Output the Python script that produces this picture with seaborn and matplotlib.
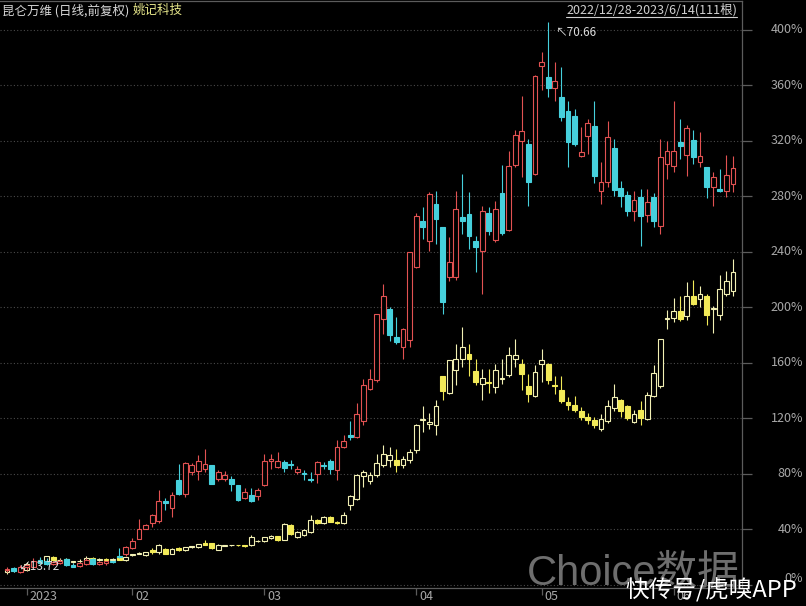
import matplotlib
matplotlib.use("Agg")
import numpy as np
import pandas as pd
import matplotlib.pyplot as plt
import matplotlib.transforms as mtransforms
from matplotlib.lines import Line2D
import seaborn as sns


# ─── DATA (% change, daily candles 2022/12/28 - 2023/6/14, 111 bars) ──────
# 昆仑万维 (main series)
kl_open = [10.5, 12, 9.5, 13, 13, 18, 17, 15, 16, 18.5, 14.5, 13.5, 15, 18.5, 15, 15.5, 17, 21, 22, 26.8,
           33.3, 40.5, 44.9, 45.8, 60.2, 55.0, 75.3, 65.8, 81.3, 82, 83.8, 86.1, 76.6, 76, 76.6, 71.7, 62.9, 64.5, 63.8, 71.7,
           89.2, 84.9, 88.5, 87.4, 81.3, 80.5, 76.5, 79.6, 86.5, 89.2, 82.5, 99.3, 108.2, 106.5, 118, 141.3, 147.8, 191.7, 198.9, 178.5,
           171.3, 176.1, 229.4, 262.5, 248.1, 274.5, 257.7, 221.7, 221.7, 265.4, 267.3, 248.1, 240.4, 267.8, 248.6, 282.2, 255.8, 302.8, 319.6, 317.7,
           296.1, 374.1, 365.7, 358, 351.8, 341.7, 338.1, 309.3, 323.7, 330.9, 283.6, 290.1, 314.6, 286.0, 281.2, 269.7, 279.3, 266.8, 279.3, 258.9,
           303.3, 301.6, 318.9, 310.0, 320.6, 304.5, 300.9, 287, 285.3, 283.6, 288.9]
kl_high = [12.5, 13, 14, 15, 19, 20, 19, 17, 18.5, 19, 15.5, 16.5, 19, 19, 17, 17.5, 17.5, 26.6, 28, 33.5,
           47.7, 43.5, 51, 68.1, 62.9, 66.9, 87.4, 88.5, 88, 93.3, 98.1, 86.5, 83, 82, 78.2, 72, 70, 70.1, 70.1, 94,
           94.5, 95.5, 90.2, 90.2, 85.4, 82.5, 81.3, 89.5, 88.5, 90.9, 104.6, 108.2, 118, 131, 148.5, 155.7, 195.5, 216.9, 200, 192.9,
           185, 240, 268, 272.1, 282.9, 283.6, 258, 250.5, 284.1, 296.1, 282.9, 251.7, 273.3, 272, 276.9, 302.8, 312.4, 328.1, 352.5, 321.3,
           367.5, 383.7, 405.3, 376.5, 372.9, 348.9, 342.6, 330.2, 335.7, 348.9, 304.5, 334.5, 321.3, 291.3, 284.1, 283.6, 285.3, 285.3, 282.2, 321.3,
           320.1, 348.9, 335.7, 331.6, 327.8, 326.1, 301, 297.3, 299.7, 310, 309.3]
kl_low = [9.5, 9, 8.5, 11, 12.5, 15, 14, 14, 15, 13.5, 12.5, 12.5, 14, 14.5, 14.5, 14.5, 16, 19.5, 21, 26,
          32.8, 40, 41.3, 44.2, 53.7, 48.9, 64.5, 63.3, 79, 75.3, 81.3, 72.5, 75, 75, 67.6, 60.5, 62, 59.7, 60.9, 71,
          83.8, 84.4, 81.3, 83.8, 80.1, 75.3, 74, 73.4, 83.8, 79.6, 75.3, 98.8, 104.1, 106.1, 114.9, 140.1, 146.1, 180.9, 176, 173.7,
          162.9, 171.3, 228, 249.3, 240.9, 245.7, 195.3, 219.3, 220, 252.9, 242.1, 225.3, 209.7, 252, 247, 252, 255, 300.8, 294.2, 273.3,
          295, 356.6, 351.3, 348.9, 334.5, 300.9, 316, 308, 310.5, 289.3, 274.5, 286.5, 280.5, 272.6, 266.1, 262.5, 244.5, 261.3, 258.2, 252.9,
          292.5, 297.3, 306.9, 294.9, 303.3, 300.9, 278.8, 273.3, 282.9, 279.8, 282.9]
kl_close = [11.5, 10, 13, 14, 17, 16, 15, 16.5, 17.5, 14, 13, 16, 18, 15, 16.5, 17, 16.5, 20, 27.3, 31.6,
            40.5, 42.9, 50.1, 60.2, 59.0, 64.5, 65.2, 87.8, 86.1, 89.2, 87.4, 72.9, 81.3, 79, 72.9, 61.4, 66.9, 60.4, 68.1, 89.2,
            90.9, 89.2, 84.4, 86.1, 83.8, 79.6, 75.8, 88.5, 85.5, 83.8, 99.3, 103.4, 106.5, 123.3, 143.9, 148.5, 195.3, 208.5, 179.7, 174.9,
            184.5, 239.7, 266.1, 257.7, 281.7, 263.7, 203.7, 232.5, 270.9, 262.0, 251.7, 243.3, 269.2, 255.3, 270.9, 253.4, 302.1, 324.4, 327.3, 290.1,
            366.9, 376.5, 358.0, 363.3, 337.4, 318.9, 317.7, 311.7, 332.5, 294.9, 290.1, 322.5, 284.6, 280.5, 269.2, 277.4, 266.1, 276.2, 262.5, 308.6,
            312.9, 312.9, 316.5, 329.2, 308.6, 309.3, 286.5, 293.7, 284.1, 295.6, 300.4]

# 姚记科技 (overlay series)
yj_open = [9, 10.5, 11, 10.5, 15, 16, 17.2, 20.1, 17.7, 18.5, 16.5, 17, 16.5, 19, 18, 18.5, 18, 19.7, 17.7, 21.3,
           22.5, 21.3, 25.4, 23.7, 26.1, 22.5, 26.6, 24.9, 27.2, 26.9, 29.8, 29.8, 25.4, 28.3, 28.4, 28.6, 28.2, 28.5, 31.3, 31.6,
           33.4, 35.0, 32.6, 42.9, 34.5, 35.7, 38.1, 46.5, 44.6, 48.9, 45.3, 44.6, 57.3, 62.1, 78.2, 74.8, 78.9, 86.1, 90.2, 89.7,
           86, 90, 97, 118.5, 116, 114.9, 150.2, 138.2, 154.5, 162.9, 166.0, 154.0, 144.4, 146.5, 142.5, 148.3, 150.9, 162.9, 159.3, 143.5,
           135.8, 158.8, 158.8, 143.9, 140.1, 131.7, 129.3, 125, 121, 119, 112.5, 118.0, 127.6, 132.9, 128.8, 117.3, 126.2, 119.2, 135.8, 143.0,
           191.5, 192.1, 197.0, 193.4, 208.5, 206.1, 208.5, 199.0, 194.1, 209.7, 211.5]
yj_high = [11, 12, 12.5, 16.5, 17, 18.5, 21, 20.5, 19.5, 19, 17.5, 18.5, 20.5, 20, 19.5, 19, 19, 20.5, 20, 22.5,
           23.5, 24, 26.5, 29.5, 26.5, 26.5, 27.5, 27.5, 27.8, 29.6, 32.6, 30, 29.4, 29, 29, 29, 28.6, 35.7, 32.5, 34.5,
           36, 35.5, 44.5, 43.5, 38.5, 40.5, 50.6, 47.5, 49.5, 49.5, 46, 52.5, 64.5, 79.5, 82.5, 81, 94, 100.5, 99.3, 98.1,
           93, 98, 116, 128.6, 123.5, 133.4, 150.5, 162, 173.7, 185.7, 173.7, 162.9, 155.7, 155.7, 159.3, 162.9, 171.3, 177.3, 162.9, 152.1,
           158.1, 170.1, 159.5, 150.2, 150.2, 135, 135.8, 128, 124, 121, 123.3, 133.4, 144.4, 134, 129.5, 126.2, 132.4, 138.9, 158.1, 177.5,
           197.7, 206.8, 207.8, 218.1, 219.8, 215.0, 209.7, 200.6, 223.6, 226.5, 234.9]
yj_low = [8, 9.5, 9, 10, 13.5, 15, 16.5, 17.5, 16.5, 16, 15.5, 16, 16, 17, 17, 17.5, 17, 18, 17, 21,
          22, 21, 22, 22.5, 22.3, 22, 24.5, 24.5, 26.8, 26.5, 28.7, 25.5, 25, 28, 28, 28, 27.6, 28, 31, 31,
          33, 31.5, 32, 36, 33.5, 35, 37.5, 43.5, 44, 45, 43.5, 44, 54.2, 61, 70.5, 73, 78, 84.9, 84.9, 81.3,
          84, 88, 95, 110.1, 112, 107.7, 132.9, 137.5, 143.7, 156.9, 150.2, 143.7, 132.9, 138.2, 138.2, 144.9, 149.7, 156.9, 140.6, 131.7,
          135.3, 146.1, 144.9, 137.7, 131.0, 126, 124.5, 119, 116, 113, 110.8, 116.6, 125, 120.9, 118.5, 116.8, 114.9, 118.5, 135.3, 142,
          184.5, 189.3, 190.0, 190.5, 201.3, 200.1, 186.9, 181.4, 191.0, 208, 208]
yj_close = [10.5, 11, 10, 15.3, 16, 17.5, 20.6, 18.2, 18.2, 16.5, 17, 17.5, 19.4, 17.8, 18.5, 18, 18.5, 18.2, 19.7, 22,
            23, 23.7, 23.5, 28.5, 22.5, 26.1, 25.2, 26.9, 27.4, 29.2, 29.0, 26.2, 29.0, 28.7, 28.6, 28.4, 28.0, 34.5, 31.8, 34.1,
            35.5, 32.1, 44.1, 36.9, 38.1, 39.8, 46.5, 44.6, 48.9, 45.3, 44.2, 50.1, 63.8, 78.9, 81.3, 79.4, 88.0, 94.0, 93.3, 86.1,
            91, 96, 114.9, 119.3, 117, 128.6, 139.6, 161.7, 162.9, 171.3, 162.9, 146.1, 149.2, 145.8, 155.0, 148.7, 165.3, 165.3, 151.6, 137.7,
            153.3, 162.2, 147.8, 143.5, 132.4, 129.3, 125.7, 121, 118.5, 115, 119.7, 128.8, 135.3, 125.2, 120.4, 122.8, 120.4, 136.5, 152.8, 176.8,
            192.3, 197.0, 191.7, 208.5, 202.5, 209.7, 194.8, 199.8, 213.3, 219.3, 225.3]

month_pos = [3, 19, 39, 62, 81, 101]
month_labels = ["2023", "02", "03", "04", "05", "06"]
y_ticks = list(range(0, 401, 40))

W, H = 806, 606           # output size in px
AX_L, AX_R = 0, 742       # plot area (px)
AX_T, AX_B = 1, 588
X0, DX = 7.0, 6.6         # px of bar 0, px per bar
Y0, DY = 584.8, 1.3875    # px of 0 %, px per %

GRID_C = "#4a4a4a"
AXIS_C = "#5c5c5c"
TEXT_C = "#a8a8a8"
CJK = ["Noto Sans CJK SC", "DejaVu Sans"]


def make_frame(o, h, l, c):
    df = pd.DataFrame({"open": o, "high": h, "low": l, "close": c})
    df["x"] = np.arange(len(df))
    df["up"] = df["close"] >= df["open"]
    df["top"] = df[["open", "close"]].max(axis=1)
    df["bot"] = df[["open", "close"]].min(axis=1)
    return df


def draw_candles(ax, df, up_edge, up_face, dn_edge, dn_face, z):
    width = 0.74
    body = np.maximum(df["top"] - df["bot"], 0.45)
    edges = np.where(df["up"], up_edge, dn_edge)
    faces = np.where(df["up"], up_face, dn_face)
    # wicks (above and below the body so hollow bodies stay empty)
    ax.vlines(df["x"], df["top"], df["high"], colors=edges, linewidth=0.8, zorder=z)
    ax.vlines(df["x"], df["low"], df["bot"], colors=edges, linewidth=0.8, zorder=z)
    ax.bar(df["x"], body, bottom=df["bot"], width=width, color=list(faces),
           edgecolor=list(edges), linewidth=0.8, zorder=z + 0.1)


def main():
    sns.set_theme(style="dark", rc={
        "axes.facecolor": "black", "figure.facecolor": "black",
        "axes.edgecolor": AXIS_C, "axes.grid": False,
    })
    plt.rcParams["font.family"] = CJK

    kl = make_frame(kl_open, kl_high, kl_low, kl_close)
    yj = make_frame(yj_open, yj_high, yj_low, yj_close)

    fig = plt.figure(figsize=(W / 100, H / 100), dpi=100)
    ax = fig.add_axes([AX_L / W, 1 - AX_B / H, (AX_R - AX_L) / W, (AX_B - AX_T) / H])
    ax.set_facecolor("black")

    draw_candles(ax, yj, "#f2f0b4", "black", "#f2ea58", "#f2ea58", z=3)
    draw_candles(ax, kl, "#e25252", "black", "#46d0dc", "#46d0dc", z=4)

    ax.set_xlim((AX_L - X0) / DX, (AX_R - X0) / DX)
    ax.set_ylim((Y0 - AX_B) / DY, (Y0 - AX_T) / DY)

    # dotted grid
    for v in y_ticks:
        ax.axhline(v, color=GRID_C, linestyle=(0, (1, 2)), linewidth=0.8, zorder=1)

    ax.spines["left"].set_visible(False)
    for s in ["right", "bottom", "top"]:
        ax.spines[s].set_color(AXIS_C)
        ax.spines[s].set_linewidth(0.9)

    ax.set_yticks(y_ticks)
    ax.tick_params(axis="y", left=False, right=True, labelleft=False, labelright=False,
                   length=7.2, width=0.9, color=AXIS_C)
    ax.set_xticks(month_pos)
    ax.tick_params(axis="x", bottom=True, labelbottom=False, length=5, width=0.9,
                   color=AXIS_C, direction="out")

    ytr = mtransforms.blended_transform_factory(ax.transAxes, ax.transData)
    for v in y_ticks:
        yy = v if v > 0 else (Y0 - 578) / DY
        ax.text(803 / AX_R, yy, f"{v}%", transform=ytr, ha="right", va="center",
                fontsize=9, color=TEXT_C, clip_on=False)

    xtr = mtransforms.blended_transform_factory(ax.transData, ax.transAxes)
    for p, lab in zip(month_pos, month_labels):
        ax.text(p + 0.45, (AX_B - 597) / (AX_B - AX_T), lab, transform=xtr,
                ha="left", va="center", fontsize=9, color=TEXT_C, clip_on=False)

    # high / low markers
    ax.text(83.2, (Y0 - 33) / DY, "↖70.66", ha="left", va="center",
            fontsize=8.5, color="#dcdcdc", zorder=6)
    ax.text(1.8, (Y0 - 566) / DY, "↙13.72", ha="left", va="center",
            fontsize=8.5, color="#dcdcdc", zorder=6)

    # header
    fig.text(2 / W, 1 - 10.5 / H, "昆仑万维 (日线,前复权)", va="center",
             fontsize=9, color="#d8d8d8")
    fig.text(133 / W, 1 - 10.5 / H, "姚记科技", va="center", fontsize=9, color="#e6e68a")
    fig.text(737 / W, 1 - 10 / H, "2022/12/28-2023/6/14(111根)", ha="right",
             va="center", fontsize=9, color="#d0d0d0")
    fig.add_artist(Line2D([566 / W, 737 / W], [1 - 16.5 / H] * 2, color="#d0d0d0", linewidth=0.8))

    # watermarks
    fig.text(527 / W, 1 - 585 / H, "Choice数据", va="baseline", fontsize=30,
             color="#6e6e6e", family=["Liberation Sans", "Noto Sans CJK SC"])
    fig.text(625 / W, 1 - 590 / H, "快传号/虎嗅APP", va="center", fontsize=17,
             color="white", family=CJK)

    fig.savefig("out.png", dpi=100, facecolor="black")
    print("saved out.png")


if __name__ == "__main__":
    main()
